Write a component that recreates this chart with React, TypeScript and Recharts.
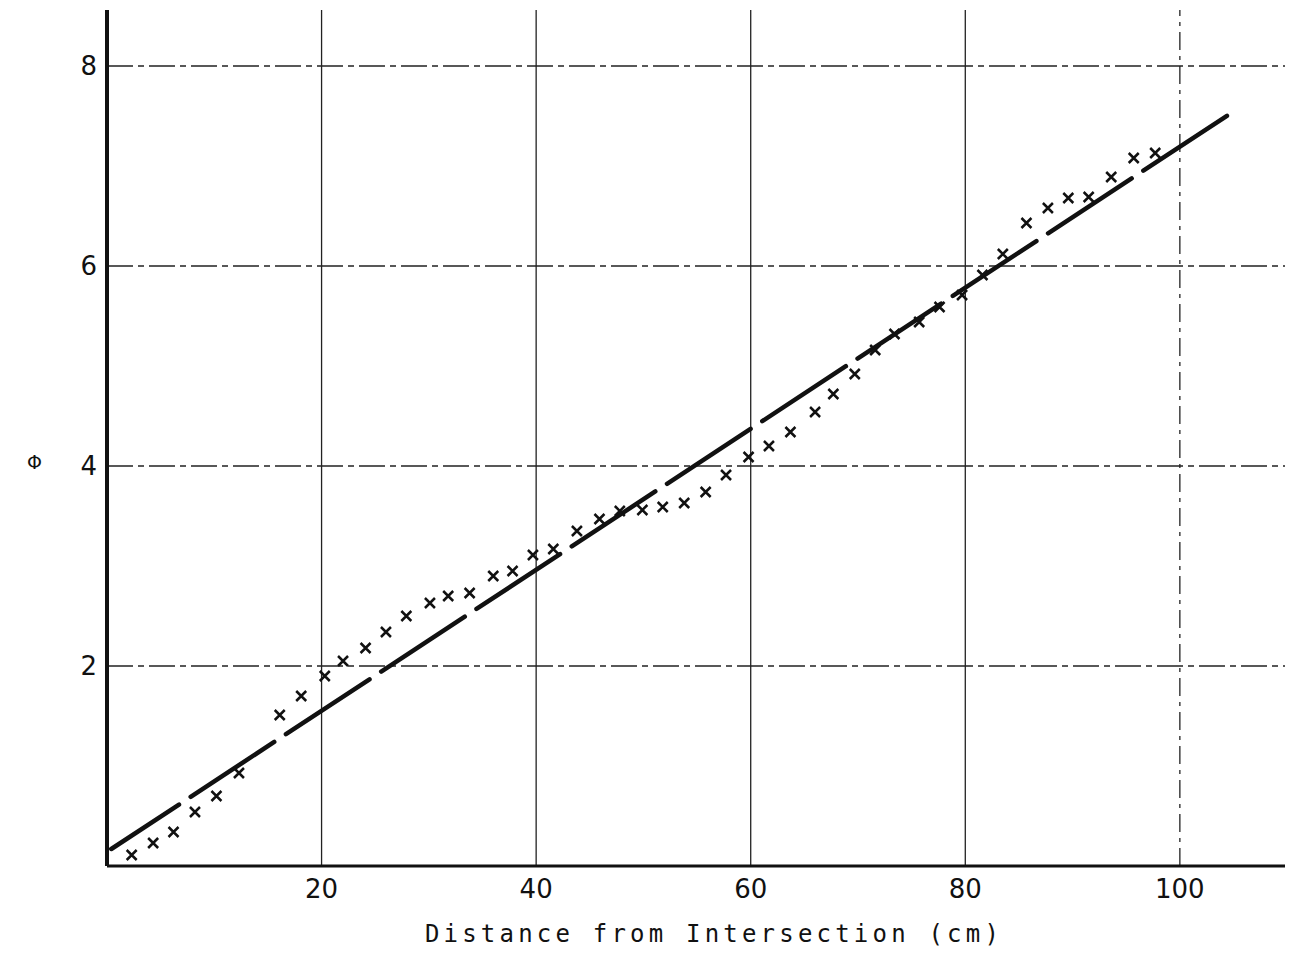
import React from "react";
import {
  ComposedChart,
  XAxis,
  YAxis,
  Scatter,
  Line,
  ReferenceLine,
} from "recharts";

// Measured potential Φ along the strip (distance in cm)
const distances = [
  2.3, 4.3, 6.2, 8.2, 10.2, 12.3, 16.1, 18.1, 20.3, 22.0, 24.1, 26.0, 27.9,
  30.1, 31.8, 33.8, 36.0, 37.8, 39.7, 41.6, 43.8, 45.9, 47.8, 49.9, 51.8, 53.8,
  55.8, 57.7, 59.8, 61.7, 63.7, 66.0, 67.7, 69.7, 71.6, 73.4, 75.7, 77.6, 79.7,
  81.6, 83.5, 85.7, 87.7, 89.6, 91.5, 93.6, 95.7, 97.7,
];
const phiValues = [
  0.11, 0.23, 0.34, 0.54, 0.7, 0.93, 1.51, 1.7, 1.9, 2.05, 2.18, 2.34, 2.5,
  2.63, 2.7, 2.73, 2.9, 2.95, 3.11, 3.17, 3.35, 3.47, 3.55, 3.56, 3.59, 3.63,
  3.74, 3.91, 4.09, 4.2, 4.34, 4.54, 4.72, 4.92, 5.16, 5.32, 5.44, 5.59, 5.71,
  5.91, 6.12, 6.43, 6.58, 6.68, 6.69, 6.89, 7.08, 7.13,
];

// Straight-line fit drawn through the measurements
const fitX = [0.4, 104.5];
const fitY = [0.17, 7.51];

const xTicks = [20, 40, 60, 80, 100];
const yTicks = [2, 4, 6, 8];

const measured = distances.map((x, i) => ({ x, y: phiValues[i] }));
const fitLine = fitX.map((x, i) => ({ x, y: fitY[i] }));

const INK = "#111";
const tickFont = "'DejaVu Sans', sans-serif";

const Cross = (props: any) => {
  const { cx, cy } = props;
  if (cx == null || cy == null) return null;
  const r = 5;
  return (
    <path
      d={`M${cx - r},${cy - r}L${cx + r},${cy + r}M${cx + r},${cy - r}L${cx - r},${cy + r}`}
      stroke={INK}
      strokeWidth={2.5}
      fill="none"
    />
  );
};

export default function App() {
  return (
    <div style={{ position: "absolute", left: 0, top: 0, width: 1289, height: 975, background: "#fff" }}>
      <ComposedChart
        width={1289}
        height={975}
        margin={{ top: 10, right: 4, left: 0, bottom: 0 }}
      >
        <XAxis
          type="number"
          dataKey="x"
          domain={[0, 109.8]}
          ticks={xTicks}
          allowDataOverflow
          height={109}
          tickSize={0}
          tickMargin={14}
          axisLine={{ stroke: INK, strokeWidth: 3 }}
          tickLine={false}
          tick={{ fontSize: 26, fill: INK, fontFamily: tickFont }}
          label={{
            value: "Distance from Intersection (cm)",
            position: "insideBottom",
            offset: 33,
            dx: 18,
            style: {
              fontSize: 24,
              fill: INK,
              fontFamily: "'DejaVu Sans Mono', 'Liberation Mono', monospace",
              letterSpacing: 4.2,
            },
          }}
        />
        <YAxis
          type="number"
          dataKey="y"
          domain={[0, 8.56]}
          ticks={yTicks}
          allowDataOverflow
          width={107}
          tickSize={0}
          tickMargin={10}
          axisLine={{ stroke: INK, strokeWidth: 4 }}
          tickLine={false}
          tick={{ fontSize: 26, fill: INK, fontFamily: tickFont }}
          label={{
            value: "Φ",
            position: "insideLeft",
            offset: 27,
            dy: 24,
            style: { fontSize: 19, fill: INK, fontFamily: tickFont },
          }}
        />
        {yTicks.map((t) => (
          <ReferenceLine
            key={`h${t}`}
            y={t}
            stroke="#222"
            strokeWidth={1.4}
            strokeDasharray="26 5 6 5"
          />
        ))}
        {xTicks.map((t) => (
          <ReferenceLine
            key={`v${t}`}
            x={t}
            stroke="#222"
            strokeWidth={1.3}
            strokeDasharray={t === 100 ? "18 6 4 6" : undefined}
          />
        ))}
        <Line
          data={fitLine}
          dataKey="y"
          type="linear"
          stroke={INK}
          strokeWidth={4.5}
          strokeDasharray="100 14"
          strokeDashoffset={19}
          strokeLinecap="round"
          dot={false}
          activeDot={false}
          isAnimationActive={false}
        />
        <Scatter
          data={measured}
          dataKey="y"
          shape={Cross}
          isAnimationActive={false}
        />
      </ComposedChart>
    </div>
  );
}
